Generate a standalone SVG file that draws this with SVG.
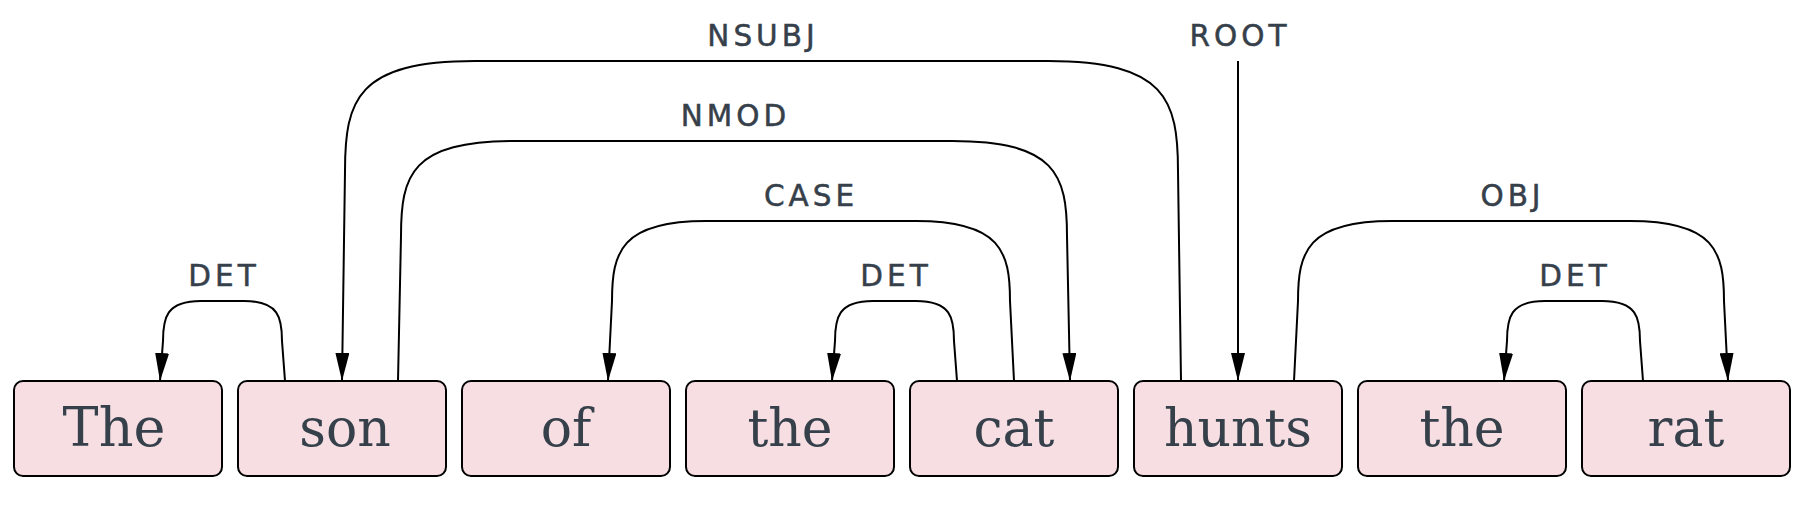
<svg xmlns="http://www.w3.org/2000/svg" width="1812" height="526" viewBox="0 0 1812 526">
<style>
.box{fill:#f6dee3;stroke:#000;stroke-width:2}
.word{font-family:"DejaVu Serif","Liberation Serif",serif;font-size:52px;fill:#36404a;text-anchor:middle}
.lab{font-family:"DejaVu Sans","Liberation Sans",sans-serif;font-size:29.5px;fill:#36404a;stroke:#36404a;stroke-width:0.5;text-anchor:middle;letter-spacing:4px}
.arc{fill:none;stroke:#000;stroke-width:2}
</style>
<defs>
<marker id="ah" markerUnits="userSpaceOnUse" markerWidth="28" markerHeight="14" viewBox="0 0 28 14" refX="28" refY="7" orient="auto"><path d="M0,0 L28,7 L0,14 z" fill="#000"/></marker>
</defs>
<rect width="1812" height="526" fill="#fff"/>
<g id="connectors">
<path id="det1" class="arc" marker-end="url(#ah)" d="M285,381 L282,341 C282,318 279,301 244,301 L201,301 C166,301 163,318 163,341 L160,381"/>
<path id="nsubj" class="arc" marker-end="url(#ah)" d="M1181,381 L1178,171 C1178,100 1166,61 1048,61 L475,61 C357,61 345,100 345,171 L342,381"/>
<path id="nmod" class="arc" marker-end="url(#ah)" d="M398,381 L401,236 C401,175 411,141 515,141 L952,141 C1056,141 1067,175 1067,236 L1070,381"/>
<path id="case" class="arc" marker-end="url(#ah)" d="M1014,381 L1010,301 C1010,252 1001,221 916,221 L706,221 C621,221 612,252 612,301 L608,381"/>
<path id="det2" class="arc" marker-end="url(#ah)" d="M957,381 L954,341 C954,318 951,301 916,301 L873,301 C838,301 835,318 835,341 L832,381"/>
<path id="root" class="arc" marker-end="url(#ah)" d="M1238,61 L1238,381"/>
<path id="obj" class="arc" marker-end="url(#ah)" d="M1294,381 L1298,301 C1298,252 1307,221 1392,221 L1630,221 C1715,221 1724,252 1724,301 L1728,381"/>
<path id="det3" class="arc" marker-end="url(#ah)" d="M1643,381 L1640,341 C1640,318 1637,301 1602,301 L1545,301 C1510,301 1507,318 1507,341 L1504,381"/>
<text class="lab" x="224" y="286">DET</text>
<text class="lab" x="763" y="46">NSUBJ</text>
<text class="lab" x="735.5" y="126">NMOD</text>
<text class="lab" x="811" y="206">CASE</text>
<text class="lab" x="896" y="286">DET</text>
<text class="lab" x="1240" y="46">ROOT</text>
<text class="lab" x="1512.5" y="206">OBJ</text>
<text class="lab" x="1575" y="286">DET</text>
</g>
<g id="n0"><rect class="box" x="14" y="381" width="208" height="95" rx="9"/><text class="word" x="114" y="446" style="font-size:54px">The</text></g>
<g id="n1"><rect class="box" x="238" y="381" width="208" height="95" rx="9"/><text class="word" x="345" y="446">son</text></g>
<g id="n2"><rect class="box" x="462" y="381" width="208" height="95" rx="9"/><text class="word" x="566" y="446">of</text></g>
<g id="n3"><rect class="box" x="686" y="381" width="208" height="95" rx="9"/><text class="word" x="790" y="446">the</text></g>
<g id="n4"><rect class="box" x="910" y="381" width="208" height="95" rx="9"/><text class="word" x="1014" y="446">cat</text></g>
<g id="n5"><rect class="box" x="1134" y="381" width="208" height="95" rx="9"/><text class="word" x="1238" y="446">hunts</text></g>
<g id="n6"><rect class="box" x="1358" y="381" width="208" height="95" rx="9"/><text class="word" x="1462" y="446">the</text></g>
<g id="n7"><rect class="box" x="1582" y="381" width="208" height="95" rx="9"/><text class="word" x="1686" y="446">rat</text></g>
</svg>
